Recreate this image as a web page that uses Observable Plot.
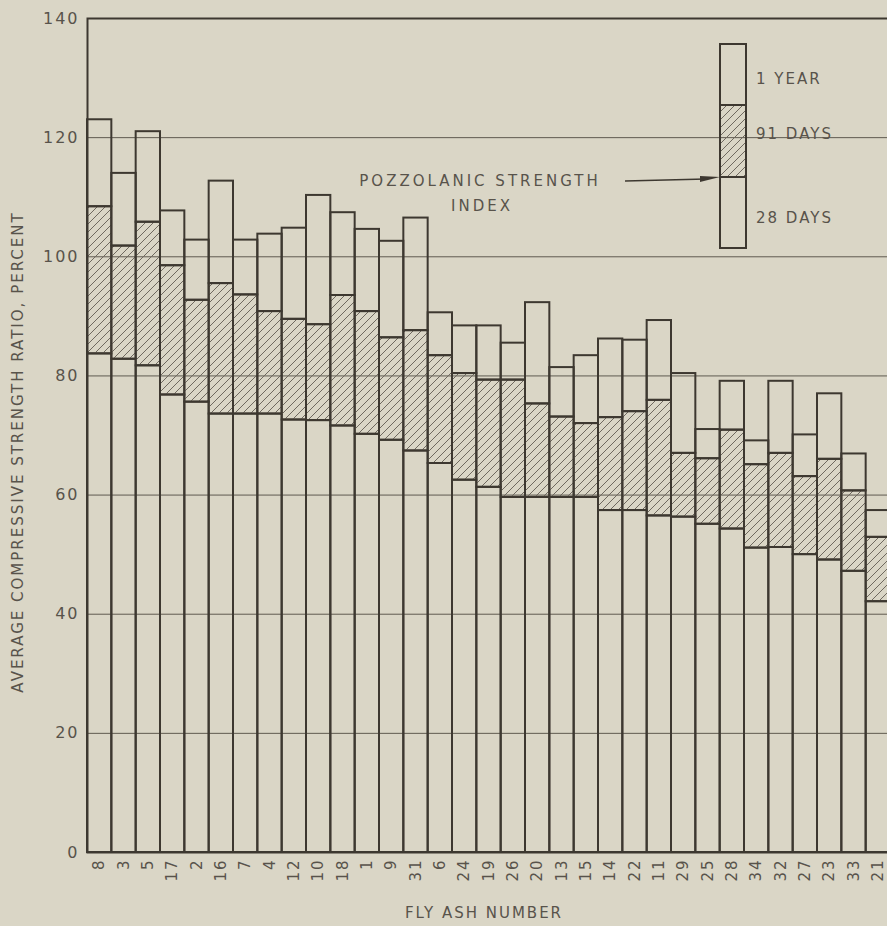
<!DOCTYPE html>
<html>
<head>
<meta charset="utf-8">
<script src="https://cdn.jsdelivr.net/npm/d3@7"></script>
<script src="https://cdn.jsdelivr.net/npm/@observablehq/plot@0.6"></script>
<style>
  html, body { margin: 0; padding: 0; background: #dad6c6; overflow: hidden; width: 887px; height: 926px; }
  #chart { position: relative; width: 887px; height: 926px; overflow: hidden; }
  #chart svg { position: absolute; left: 0; top: 0; background: #dad6c6; max-width: none !important; width: 890px !important; height: 926px !important; }
  svg text { letter-spacing: 2px; }
</style>
</head>
<body>
<div id="chart"></div>
<script>
const ashNumbers = ["8","3","5","17","2","16","7","4","12","10","18","1","9","31","6","24","19","26","20","13","15","14","22","11","29","25","28","34","32","27","23","33","21"];
const days28 = [83.7,82.8,81.7,76.8,75.6,73.6,73.6,73.6,72.6,72.5,71.6,70.2,69.2,67.4,65.3,62.5,61.3,59.6,59.6,59.6,59.6,57.4,57.4,56.5,56.3,55.1,54.3,51.1,51.2,50.0,49.1,47.2,42.1];
const days91 = [108.4,101.8,105.8,98.5,92.7,95.5,93.6,90.8,89.5,88.6,93.5,90.8,86.4,87.6,83.4,80.4,79.3,79.3,75.3,73.1,72.0,73.0,74.0,75.9,67.0,66.1,70.9,65.1,67.0,63.1,66.0,60.7,52.9];
const year1 = [123.0,114.0,121.0,107.7,102.8,112.7,102.8,103.8,104.8,110.3,107.4,104.6,102.6,106.5,90.6,88.4,88.4,85.5,92.3,81.4,83.4,86.2,86.0,89.3,80.4,71.0,79.1,69.1,79.1,70.1,77.0,66.9,57.4];
const yTicks = [0,20,40,60,80,100,120,140];
const gridValues = [20,40,60,80,100,120];

const rows = ashNumbers.map((a, i) => ({ash: a, d28: days28[i], d91: days91[i], y1: year1[i]}));

const ink = "#3d3830";
const textInk = "#58534b";
const font = "'DejaVu Sans', sans-serif";

const plot = Plot.plot({
  width: 890,
  height: 926,
  marginLeft: 87,
  marginRight: 0,
  marginTop: 18,
  marginBottom: 74,
  style: {background: "#dad6c6", fontFamily: font, fontSize: "15px", color: textInk, overflow: "visible"},
  x: {type: "band", domain: ashNumbers, padding: 0, round: false, label: null},
  y: {domain: [0, 140], ticks: yTicks, label: null},
  marks: [
    Plot.ruleY(gridValues, {stroke: "#5f5a50", strokeWidth: 1}),
    Plot.barY(rows, {x: "ash", y1: 0, y2: "d28", fill: "none", stroke: ink, strokeWidth: 2}),
    Plot.barY(rows, {x: "ash", y1: "d28", y2: "d91", fill: "url(#hatch)", stroke: ink, strokeWidth: 2}),
    Plot.barY(rows, {x: "ash", y1: "d91", y2: "y1", fill: "none", stroke: ink, strokeWidth: 2}),
    Plot.frame({stroke: ink, strokeWidth: 2}),
    Plot.axisY({ticks: yTicks, tickSize: 0, tickPadding: 8, fontSize: 16, label: null, fill: textInk}),
    Plot.axisX({tickSize: 0, tickPadding: 6, tickRotate: -90, fontSize: 15, label: null, fill: textInk})
  ]
});

document.getElementById("chart").appendChild(plot);

const svg = d3.select(plot);
const defs = svg.insert("defs", ":first-child");
const pat = defs.append("pattern")
  .attr("id", "hatch").attr("patternUnits", "userSpaceOnUse")
  .attr("width", 8).attr("height", 8);
pat.append("path").attr("d", "M-2,2 l4,-4 M0,8 l8,-8 M6,10 l4,-4")
  .attr("stroke", "#6f695f").attr("stroke-width", 1);

// Axis titles
svg.append("text")
  .attr("transform", "translate(23,452) rotate(-90)")
  .attr("text-anchor", "middle")
  .attr("font-size", 15).attr("fill", textInk)
  .attr("style", "letter-spacing:2px")
  .text("AVERAGE COMPRESSIVE STRENGTH RATIO, PERCENT");
svg.append("text")
  .attr("x", 484).attr("y", 918)
  .attr("text-anchor", "middle")
  .attr("font-size", 15).attr("fill", textInk)
  .text("FLY ASH NUMBER");

// Legend
const lg = svg.append("g");
const lx = 720, lw = 26, lTop = 44, lA = 105, lB = 177, lBot = 248;
lg.append("rect").attr("x", lx).attr("y", lA).attr("width", lw).attr("height", lB - lA).attr("fill", "url(#hatch)");
lg.append("rect").attr("x", lx).attr("y", lTop).attr("width", lw).attr("height", lBot - lTop)
  .attr("fill", "none").attr("stroke", ink).attr("stroke-width", 2);
[lA, lB].forEach(y => lg.append("line").attr("x1", lx).attr("x2", lx + lw).attr("y1", y).attr("y2", y)
  .attr("stroke", ink).attr("stroke-width", 2));
const legendLabels = [["1 YEAR", 79], ["91 DAYS", 134], ["28 DAYS", 218]];
legendLabels.forEach(([t, y]) => lg.append("text").attr("x", 756).attr("y", y).attr("dy", "0.35em")
  .attr("text-anchor", "start")
  .attr("font-size", 15).attr("fill", textInk).text(t));

// Pozzolanic strength index annotation
svg.append("text").attr("x", 480).attr("y", 181).attr("dy", "0.35em").attr("text-anchor", "middle")
  .attr("font-size", 15).attr("fill", textInk).attr("style", "letter-spacing:3px").text("POZZOLANIC STRENGTH");
svg.append("text").attr("x", 482).attr("y", 206).attr("dy", "0.35em").attr("text-anchor", "middle")
  .attr("font-size", 15).attr("fill", textInk).attr("style", "letter-spacing:3px").text("INDEX");
svg.append("line").attr("x1", 625).attr("x2", 706).attr("y1", 181).attr("y2", 179)
  .attr("stroke", ink).attr("stroke-width", 1.5);
svg.append("path").attr("d", "M700,176 L720,177 L700,182 Z").attr("fill", ink);
</script>
</body>
</html>
